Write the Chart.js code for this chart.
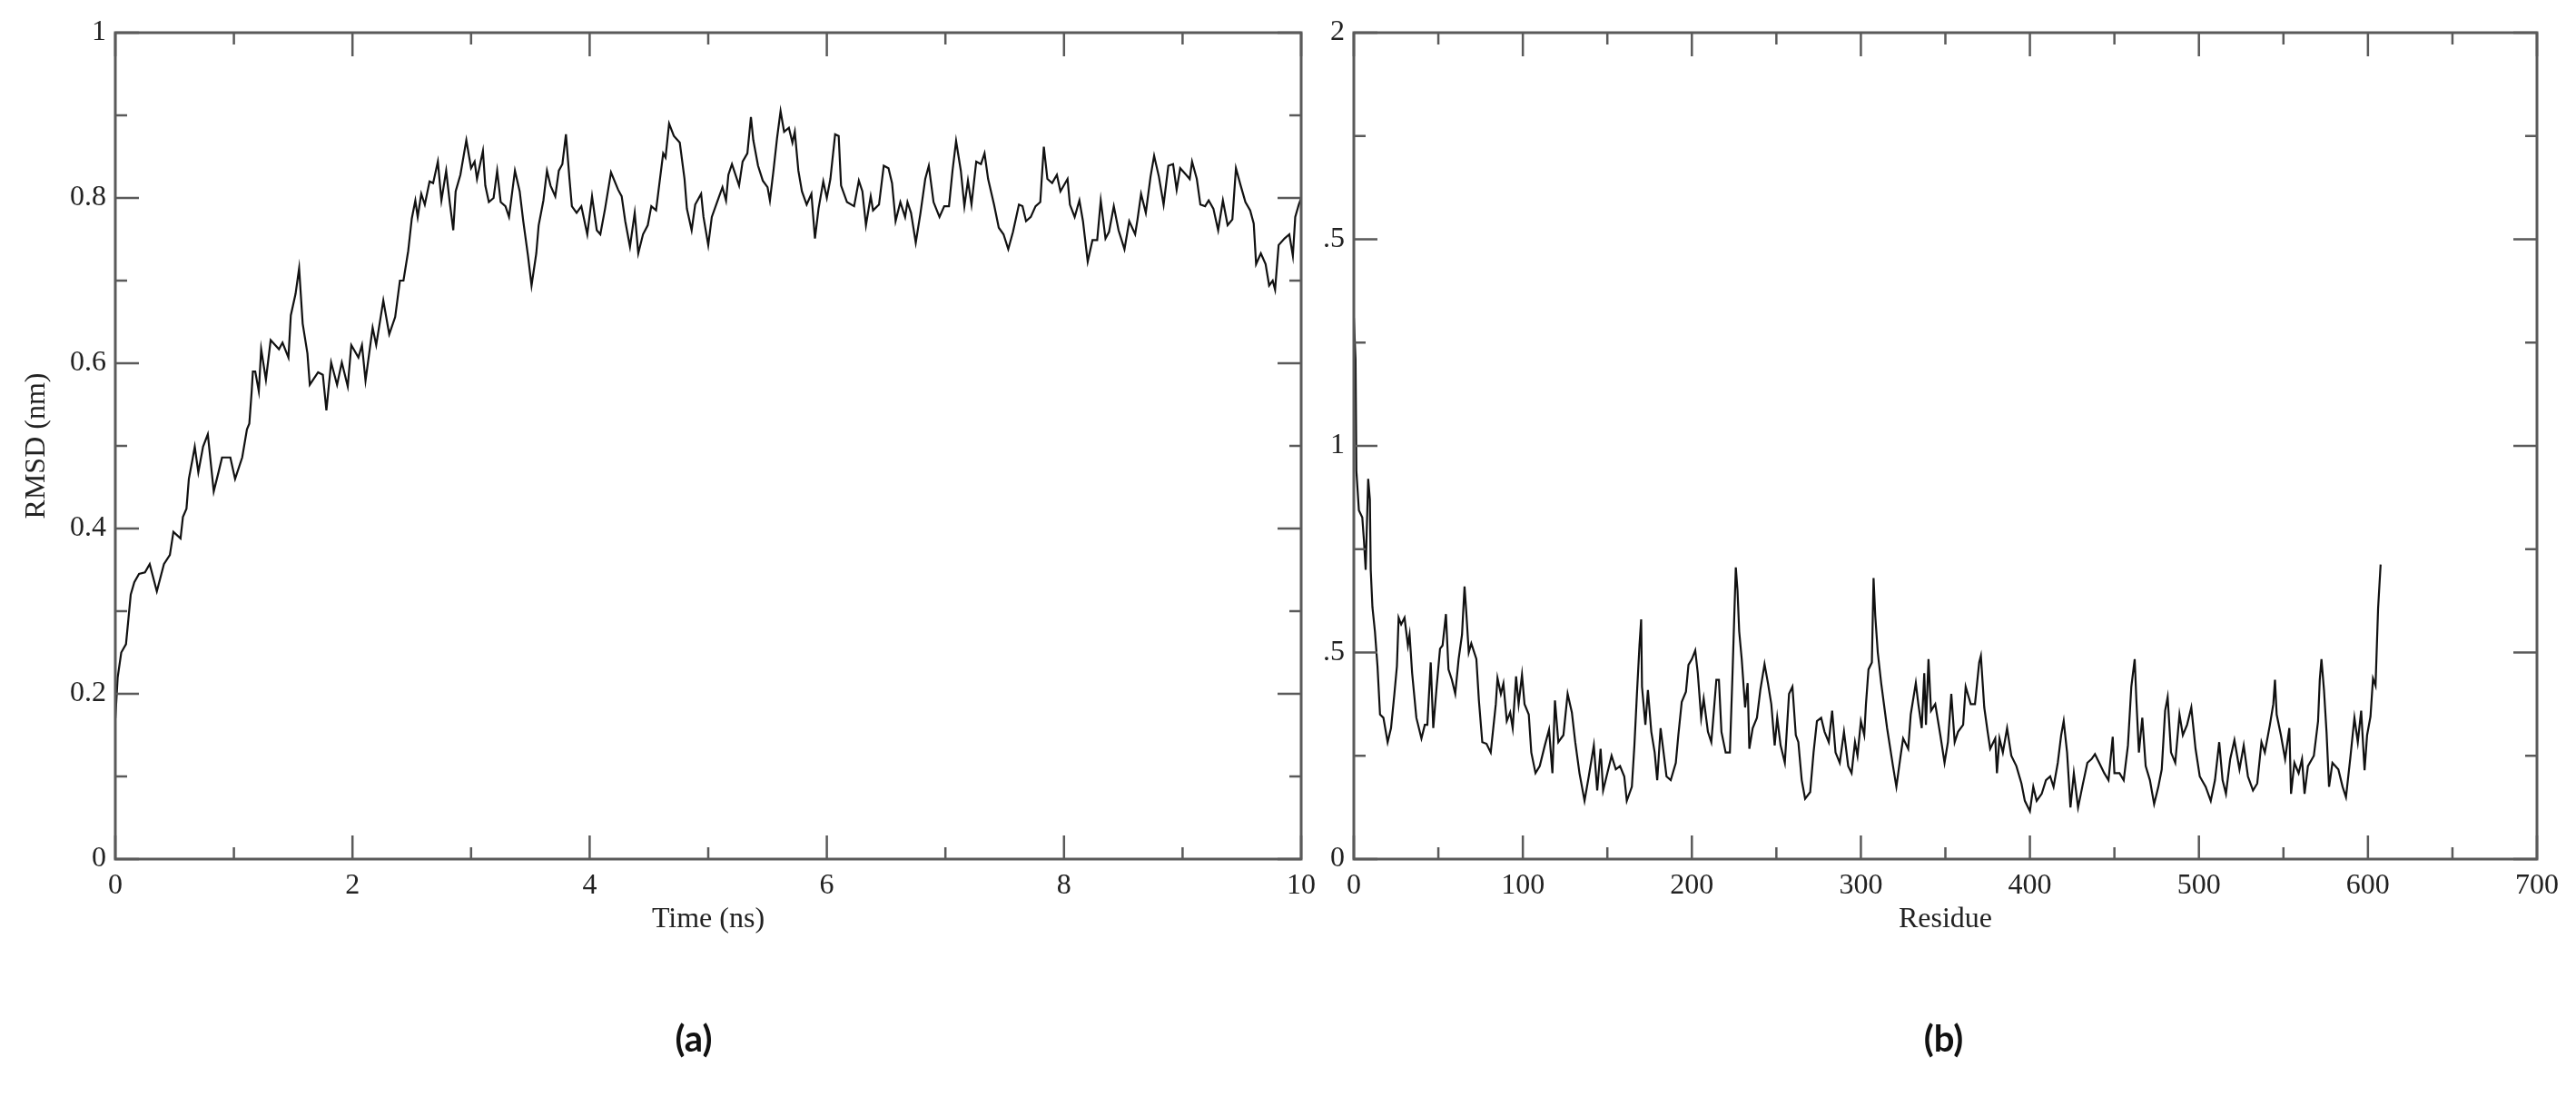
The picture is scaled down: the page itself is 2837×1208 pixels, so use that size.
<!DOCTYPE html>
<html>
<head>
<meta charset="utf-8">
<script src="https://cdn.jsdelivr.net/npm/chart.js@4.4.0/dist/chart.umd.min.js"></script>
<style>
  html, body { margin: 0; padding: 0; background: #fff; }
  body { width: 2837px; height: 1208px; position: relative; overflow: hidden; }
  .painel { position: absolute; top: 0; height: 1208px; }
  #painelA { left: 0; width: 1470px; }
  #painelB { left: 1452px; width: 1385px; }
</style>
</head>
<body>
<div class="painel" id="painelA"><canvas id="graficRmsd"></canvas></div>
<div class="painel" id="painelB"><canvas id="graficRmsf"></canvas></div>
<script>
// (a) RMSD x tempo -------------------------------------------------
let tempoNs = [0, 0.02, 0.05, 0.09, 0.11, 0.13, 0.16, 0.20, 0.25, 0.29, 0.35, 0.41, 0.46, 0.49, 0.55, 0.57, 0.60, 0.62, 0.65, 0.67,
  0.70, 0.74, 0.78, 0.83, 0.87, 0.90, 0.97, 1.01, 1.07, 1.11, 1.13, 1.15, 1.16, 1.18, 1.21, 1.23, 1.27, 1.31, 1.38, 1.41,
  1.46, 1.48, 1.52, 1.55, 1.58, 1.62, 1.64, 1.71, 1.75, 1.78, 1.82, 1.87, 1.91, 1.96, 1.99, 2.05, 2.08, 2.11, 2.17, 2.20,
  2.26, 2.31, 2.36, 2.40, 2.43, 2.47, 2.50, 2.53, 2.55, 2.58, 2.61, 2.65, 2.68, 2.72, 2.75, 2.79, 2.82, 2.85, 2.87, 2.91,
  2.96, 3.00, 3.03, 3.05, 3.10, 3.12, 3.15, 3.19, 3.22, 3.25, 3.29, 3.32, 3.37, 3.41, 3.44, 3.48, 3.51, 3.55, 3.57, 3.61,
  3.64, 3.67, 3.71, 3.74, 3.77, 3.80, 3.83, 3.85, 3.89, 3.93, 3.98, 4.02, 4.06, 4.09, 4.13, 4.18, 4.24, 4.27, 4.30, 4.34,
  4.38, 4.41, 4.45, 4.49, 4.52, 4.56, 4.58, 4.62, 4.64, 4.67, 4.71, 4.76, 4.80, 4.82, 4.86, 4.89, 4.94, 4.96, 5.00, 5.03,
  5.08, 5.12, 5.15, 5.17, 5.20, 5.26, 5.29, 5.33, 5.36, 5.38, 5.42, 5.46, 5.50, 5.52, 5.55, 5.58, 5.61, 5.64, 5.68, 5.71,
  5.73, 5.76, 5.79, 5.83, 5.87, 5.90, 5.93, 5.97, 6.00, 6.03, 6.07, 6.10, 6.12, 6.17, 6.23, 6.27, 6.30, 6.33, 6.37, 6.39,
  6.44, 6.48, 6.52, 6.55, 6.58, 6.62, 6.66, 6.68, 6.71, 6.75, 6.79, 6.83, 6.86, 6.90, 6.95, 6.99, 7.03, 7.06, 7.09, 7.13,
  7.16, 7.19, 7.22, 7.26, 7.30, 7.33, 7.36, 7.41, 7.45, 7.49, 7.53, 7.57, 7.62, 7.65, 7.68, 7.72, 7.76, 7.80, 7.81, 7.83,
  7.86, 7.90, 7.94, 7.97, 8.03, 8.05, 8.09, 8.13, 8.16, 8.20, 8.24, 8.28, 8.31, 8.35, 8.38, 8.42, 8.46, 8.51, 8.55, 8.60,
  8.62, 8.65, 8.69, 8.73, 8.76, 8.80, 8.84, 8.88, 8.92, 8.95, 8.98, 9.03, 9.06, 9.08, 9.12, 9.15, 9.19, 9.22, 9.26, 9.30,
  9.34, 9.38, 9.42, 9.45, 9.49, 9.53, 9.57, 9.60, 9.62, 9.66, 9.70, 9.73, 9.76, 9.78, 9.81, 9.86, 9.90, 9.93, 9.95, 9.98, 10]
let rmsdNm = [0.17, 0.22, 0.25, 0.26, 0.29, 0.32, 0.335, 0.345, 0.347, 0.357, 0.324, 0.357, 0.368, 0.396, 0.388, 0.414, 0.424, 0.46, 0.483, 0.499,
  0.468, 0.499, 0.514, 0.445, 0.468, 0.486, 0.486, 0.46, 0.486, 0.52, 0.527, 0.566, 0.59, 0.59, 0.566, 0.617, 0.58, 0.628, 0.617, 0.625,
  0.607, 0.658, 0.684, 0.715, 0.648, 0.612, 0.574, 0.589, 0.586, 0.543, 0.601, 0.574, 0.601, 0.572, 0.622, 0.607, 0.622, 0.579, 0.643, 0.622,
  0.676, 0.635, 0.656, 0.70, 0.70, 0.736, 0.775, 0.797, 0.777, 0.805, 0.792, 0.82, 0.818, 0.844, 0.797, 0.833, 0.795, 0.761, 0.808, 0.828,
  0.87, 0.836, 0.844, 0.823, 0.857, 0.815, 0.795, 0.80, 0.833, 0.795, 0.79, 0.777, 0.833, 0.808, 0.772, 0.73, 0.694, 0.733, 0.767, 0.797,
  0.833, 0.815, 0.802, 0.833, 0.841, 0.877, 0.823, 0.79, 0.782, 0.79, 0.756, 0.802, 0.761, 0.756, 0.787, 0.831, 0.81, 0.802, 0.772, 0.741,
  0.782, 0.733, 0.756, 0.767, 0.79, 0.785, 0.808, 0.854, 0.849, 0.89, 0.875, 0.867, 0.823, 0.787, 0.761, 0.792, 0.805, 0.777, 0.743, 0.777,
  0.797, 0.813, 0.797, 0.828, 0.841, 0.815, 0.844, 0.854, 0.898, 0.87, 0.839, 0.821, 0.813, 0.797, 0.833, 0.872, 0.905, 0.88, 0.885, 0.867,
  0.88, 0.833, 0.808, 0.792, 0.805, 0.751, 0.787, 0.82, 0.80, 0.823, 0.877, 0.875, 0.815, 0.795, 0.79, 0.821, 0.808, 0.767, 0.802, 0.785,
  0.792, 0.839, 0.836, 0.818, 0.772, 0.795, 0.777, 0.795, 0.782, 0.746, 0.782, 0.823, 0.839, 0.795, 0.777, 0.79, 0.79, 0.833, 0.869, 0.833,
  0.79, 0.821, 0.792, 0.844, 0.841, 0.854, 0.823, 0.792, 0.764, 0.756, 0.738, 0.759, 0.792, 0.79, 0.772, 0.777, 0.79, 0.795, 0.818, 0.862,
  0.823, 0.818, 0.828, 0.808, 0.823, 0.792, 0.777, 0.797, 0.772, 0.723, 0.749, 0.749, 0.797, 0.751, 0.759, 0.79, 0.761, 0.738, 0.772, 0.756,
  0.774, 0.805, 0.782, 0.826, 0.851, 0.826, 0.792, 0.839, 0.841, 0.81, 0.836, 0.828, 0.823, 0.844, 0.823, 0.792, 0.79, 0.797, 0.787, 0.761,
  0.797, 0.767, 0.774, 0.836, 0.815, 0.795, 0.785, 0.769, 0.72, 0.733, 0.72, 0.694, 0.70, 0.689, 0.743, 0.751, 0.756, 0.73, 0.777, 0.792, 0.80]

let ticksTempo = [0, 2, 4, 6, 8, 10]
let ticksTempoMenor = [1, 3, 5, 7, 9]
let labelsTempo = ['0', '2', '4', '6', '8', '10']
let ticksRmsd = [0, 0.2, 0.4, 0.6, 0.8, 1]
let ticksRmsdMenor = [0.1, 0.3, 0.5, 0.7, 0.9]
let labelsRmsd = ['0', '0.2', '0.4', '0.6', '0.8', '1']

// (b) RMSF x residuo -----------------------------------------------
let residuo = [0, 1, 1.5, 3, 5, 6, 7, 8.5, 9.5, 10, 11, 12.5, 14, 15.5, 17.5, 20, 22, 24, 25.5, 26.5,
  28, 30, 32, 33, 34.5, 37, 40, 42, 43.5, 45.5, 47, 49, 51, 52.5, 54.5, 56, 58, 60, 62, 64,
  65.5, 66.5, 68, 69.5, 72.5, 74, 76, 78.5, 81, 82.5, 84, 85, 87, 88.5, 90.5, 92.5, 94, 96, 97.5, 99.5,
  101, 103.5, 105, 107.5, 110, 113, 115.5, 117.5, 119, 121, 124, 126.5, 129, 131, 133.5, 136.5, 139, 142, 144, 146,
  147.5, 150, 152.5, 155, 157.5, 160, 161.5, 164.5, 166, 167.5, 169, 170, 170.5, 172.5, 174, 176, 178, 179.5, 181.5, 183,
  185, 187.5, 190.5, 192, 194, 196.5, 198, 200, 202, 203.5, 205.5, 207, 209.5, 211.5, 214.5, 216, 217.5, 220, 222.5, 224,
  225, 226, 227, 228, 229.5, 231.5, 233, 234, 236, 238.5, 240.5, 243, 245, 247, 249, 250.5, 252.5, 255, 257.5, 259.5,
  261.5, 263, 265, 267, 270, 272, 274, 276.5, 278.5, 281, 283, 285, 287.5, 290, 292.5, 294.5, 296.5, 298, 300, 302,
  303, 304.5, 306.5, 307.5, 308.5, 310, 312, 315.5, 319, 321, 323.5, 325, 328, 329.5, 332.5, 334, 336, 337.5, 338.5, 340,
  341.5, 344, 347, 349.5, 351.5, 353.5, 355.5, 357.5, 360.5, 362, 365, 367.5, 370, 371, 373, 375, 376.5, 379.5, 380.5, 382,
  384, 386.5, 389, 392, 395, 397, 400, 402, 404, 407, 409.5, 412, 414, 416.5, 418.5, 420, 422, 424, 426, 428.5,
  431, 434, 436.5, 438.5, 441, 444, 446.5, 449, 450, 453, 455.5, 458, 460, 462, 463, 464.5, 466.5, 468.5, 471, 473.5,
  476, 478, 480, 481.5, 483.5, 486, 488.5, 490.5, 493, 495.5, 498, 500.5, 504, 507, 509.5, 512, 514, 516, 518.5, 521,
  524, 526.5, 529, 532, 534.5, 537, 539, 542, 544, 545, 546, 548.5, 551, 553.5, 554.5, 556.5, 559, 561, 562.5, 564.5,
  568, 570.5, 571.5, 572.5, 574, 575.5, 577, 579, 582.5, 585, 587, 589.5, 592, 594, 596, 598, 599.5, 601.5, 603, 604.5, 606, 607.5]
let rmsfNm = [1.31, 1.21, 0.94, 0.844, 0.827, 0.77, 0.70, 0.92, 0.87, 0.70, 0.61, 0.55, 0.467, 0.35, 0.342, 0.283, 0.317, 0.40, 0.467, 0.584,
  0.568, 0.584, 0.517, 0.543, 0.45, 0.342, 0.292, 0.325, 0.325, 0.476, 0.317, 0.417, 0.509, 0.517, 0.593, 0.459, 0.434, 0.40, 0.484, 0.543,
  0.66, 0.60, 0.50, 0.522, 0.484, 0.384, 0.283, 0.279, 0.258, 0.317, 0.375, 0.438, 0.40, 0.425, 0.334, 0.355, 0.317, 0.442, 0.375, 0.446,
  0.375, 0.35, 0.258, 0.208, 0.225, 0.275, 0.313, 0.208, 0.384, 0.283, 0.30, 0.40, 0.355, 0.283, 0.208, 0.141, 0.20, 0.275, 0.166, 0.267,
  0.166, 0.208, 0.25, 0.217, 0.225, 0.20, 0.141, 0.175, 0.275, 0.40, 0.517, 0.58, 0.417, 0.325, 0.409, 0.308, 0.258, 0.191, 0.317, 0.267,
  0.20, 0.191, 0.233, 0.30, 0.38, 0.405, 0.47, 0.484, 0.505, 0.45, 0.342, 0.388, 0.308, 0.283, 0.434, 0.434, 0.308, 0.258, 0.258, 0.442,
  0.576, 0.706, 0.65, 0.551, 0.484, 0.367, 0.426, 0.267, 0.317, 0.342, 0.409, 0.472, 0.426, 0.375, 0.275, 0.342, 0.275, 0.233, 0.40, 0.417,
  0.30, 0.283, 0.191, 0.146, 0.162, 0.258, 0.334, 0.342, 0.308, 0.283, 0.359, 0.258, 0.233, 0.308, 0.225, 0.208, 0.283, 0.25, 0.334, 0.30,
  0.375, 0.459, 0.476, 0.68, 0.589, 0.50, 0.426, 0.317, 0.225, 0.175, 0.25, 0.292, 0.267, 0.35, 0.426, 0.375, 0.317, 0.45, 0.325, 0.484,
  0.359, 0.375, 0.30, 0.233, 0.283, 0.40, 0.283, 0.308, 0.325, 0.417, 0.375, 0.375, 0.476, 0.492, 0.367, 0.308, 0.267, 0.292, 0.208, 0.292,
  0.258, 0.317, 0.25, 0.225, 0.183, 0.141, 0.116, 0.175, 0.141, 0.158, 0.191, 0.20, 0.175, 0.233, 0.30, 0.334, 0.258, 0.125, 0.208, 0.125,
  0.175, 0.233, 0.242, 0.254, 0.233, 0.208, 0.191, 0.296, 0.208, 0.208, 0.191, 0.275, 0.417, 0.484, 0.384, 0.258, 0.342, 0.225, 0.191, 0.133,
  0.175, 0.217, 0.359, 0.392, 0.258, 0.233, 0.35, 0.30, 0.325, 0.367, 0.267, 0.20, 0.175, 0.141, 0.191, 0.283, 0.191, 0.158, 0.242, 0.288,
  0.217, 0.275, 0.20, 0.166, 0.183, 0.283, 0.258, 0.325, 0.375, 0.434, 0.35, 0.30, 0.242, 0.317, 0.158, 0.233, 0.208, 0.242, 0.158, 0.225,
  0.25, 0.334, 0.434, 0.484, 0.409, 0.308, 0.175, 0.233, 0.217, 0.175, 0.15, 0.242, 0.342, 0.283, 0.359, 0.215, 0.30, 0.345, 0.437, 0.42, 0.606, 0.713]

let ticksResiduo = [0, 100, 200, 300, 400, 500, 600, 700]
let ticksResiduoMenor = [50, 150, 250, 350, 450, 550, 650]
let labelsResiduo = ['0', '100', '200', '300', '400', '500', '600', '700']
let ticksRmsf = [0, 0.5, 1, 1.5, 2]
let ticksRmsfMenor = [0.25, 0.75, 1.25, 1.75]
let labelsRmsf = ['0', '.5', '1', '.5', '2']   // como aparece na figura (cortado)

// caixa + tracinhos para dentro nos 4 lados
const moldura = {
  id: 'moldura',
  afterDatasetsDraw(chart, args, op) {
    const {ctx, chartArea: a} = chart
    const sx = chart.scales.x, sy = chart.scales.y
    ctx.save()
    ctx.strokeStyle = '#5a5a5a'
    ctx.lineWidth = 2.5
    ctx.beginPath()
    const tracoX = (v, len) => {
      const px = sx.getPixelForValue(v)
      ctx.moveTo(px, a.bottom); ctx.lineTo(px, a.bottom - len)
      ctx.moveTo(px, a.top); ctx.lineTo(px, a.top + len)
    }
    const tracoY = (v, len) => {
      const py = sy.getPixelForValue(v)
      ctx.moveTo(a.left, py); ctx.lineTo(a.left + len, py)
      ctx.moveTo(a.right, py); ctx.lineTo(a.right - len, py)
    }
    op.xMaior.forEach(v => tracoX(v, 26))
    op.xMenor.forEach(v => tracoX(v, 13))
    op.yMaior.forEach(v => tracoY(v, 26))
    op.yMenor.forEach(v => tracoY(v, 13))
    ctx.stroke()
    ctx.lineWidth = 3
    ctx.strokeRect(a.left, a.top, a.right - a.left, a.bottom - a.top)
    ctx.restore()
  }
}

// letra do painel, (a) / (b), embaixo do grafico
const rotulo = {
  id: 'rotulo',
  afterDraw(chart, args, op) {
    const {ctx, chartArea: a} = chart
    ctx.save()
    ctx.font = 'bold 40px Lato'
    ctx.fillStyle = '#111'
    ctx.textAlign = 'center'
    ctx.textBaseline = 'middle'
    ctx.fillText(op.texto, (a.left + a.right) / 2 + op.dx, a.bottom + op.dy)
    ctx.restore()
  }
}

const fonteSerif = { family: "'Liberation Serif', 'DejaVu Serif', serif", size: 32 }
const corTexto = '#222'

function montaGrafico(canvasId, c) {
  return new Chart(document.getElementById(canvasId), {
    type: 'line',
    data: {
      datasets: [{
        data: c.xs.map((v, i) => ({ x: v, y: c.ys[i] })),
        borderColor: '#111',
        borderWidth: 2.2,
        pointRadius: 0,
        tension: 0
      }]
    },
    options: {
      responsive: true,
      maintainAspectRatio: false,
      animation: false,
      devicePixelRatio: 1,
      layout: { padding: { top: 36, left: 0, right: c.padDir, bottom: 118 } },
      plugins: {
        legend: { display: false },
        tooltip: { enabled: false },
        moldura: { xMaior: c.xTicks, xMenor: c.xMenor, yMaior: c.yTicks, yMenor: c.yMenor },
        rotulo: { texto: c.painel, dx: c.dxPainel, dy: 199 }
      },
      scales: {
        x: {
          type: 'linear', min: c.xTicks[0], max: c.xTicks[c.xTicks.length - 1],
          grid: { display: false, drawTicks: false },
          border: { display: false },
          afterBuildTicks: s => { s.ticks = c.xTicks.map(v => ({ value: v })) },
          afterFit: s => { s.height = 144 },
          ticks: { autoSkip: false, maxRotation: 0, padding: 10, color: corTexto, font: fonteSerif,
            callback: (v, i) => c.xLabels[i] },
          title: { display: true, text: c.xTitulo, color: corTexto, font: fonteSerif, padding: { top: 0, bottom: 58 } }
        },
        y: {
          type: 'linear', min: c.yTicks[0], max: c.yTicks[c.yTicks.length - 1],
          grid: { display: false, drawTicks: false },
          border: { display: false },
          afterBuildTicks: s => { s.ticks = c.yTicks.map(v => ({ value: v })) },
          afterFit: s => { s.width = c.largY },
          ticks: { autoSkip: false, padding: 10, color: corTexto, font: fonteSerif,
            callback: (v, i) => c.yLabels[i] },
          title: { display: !!c.yTitulo, text: c.yTitulo || '', color: corTexto, font: fonteSerif, padding: { top: 21, bottom: 0 } }
        }
      }
    },
    plugins: [moldura, rotulo]
  })
}

montaGrafico('graficRmsd', {
  xs: tempoNs, ys: rmsdNm, painel: '(a)', dxPainel: -16,
  xTicks: ticksTempo, xMenor: ticksTempoMenor, xLabels: labelsTempo, xTitulo: 'Time (ns)',
  yTicks: ticksRmsd, yMenor: ticksRmsdMenor, yLabels: labelsRmsd, yTitulo: 'RMSD (nm)',
  largY: 127, padDir: 37
})

montaGrafico('graficRmsf', {
  xs: residuo, ys: rmsfNm, painel: '(b)', dxPainel: -2,
  xTicks: ticksResiduo, xMenor: ticksResiduoMenor, xLabels: labelsResiduo, xTitulo: 'Residue',
  yTicks: ticksRmsf, yMenor: ticksRmsfMenor, yLabels: labelsRmsf, yTitulo: null,
  largY: 39, padDir: 43
})
</script>
</body>
</html>
